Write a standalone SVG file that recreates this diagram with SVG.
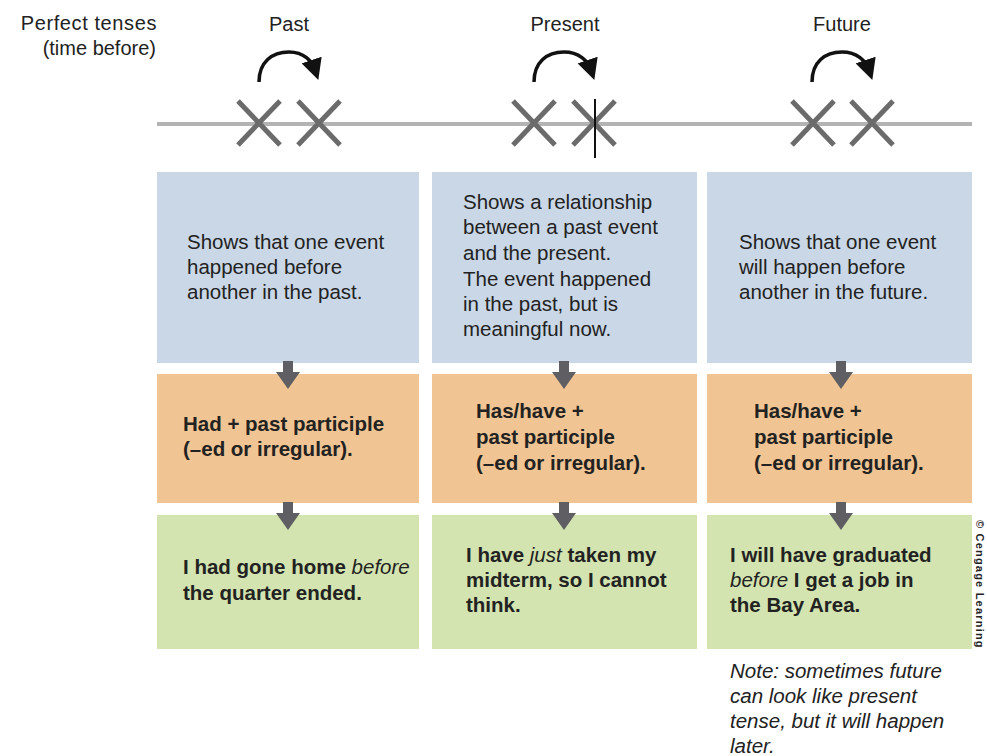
<svg xmlns="http://www.w3.org/2000/svg" width="987" height="756" viewBox="0 0 987 756">
<style>
text{font-family:"Liberation Sans",Arial,sans-serif;fill:#222}
.hd{font-size:20px}
.bt{font-size:20.5px}
.ob{font-size:20.5px;font-weight:bold}
.note{font-size:20.5px;font-style:italic}
.blue{fill:#cad7e6}
.orange{fill:#f1c593}
.green{fill:#d3e4b0}
.x{stroke:#6b6b6b;stroke-width:5;fill:none}
.arc{stroke:#111;stroke-width:3.5;fill:none}
.dn{fill:#5f5f63}
</style>
<defs>
<marker id="ah" markerWidth="6" markerHeight="6" refX="3" refY="3" orient="auto" markerUnits="strokeWidth">
<path d="M0,0 L6,3 L0,6 z" fill="#111"/>
</marker>
<g id="xx">
<path class="x" d="M-21,-22 L21,22 M-21,22 L21,-22"/>
</g>
<path id="darrow" d="M-5,0 L5,0 L5,11 L12,11 L0,28 L-12,11 L-5,11 z"/>
</defs>

<g id="title">
<text class="hd" x="157" y="30" text-anchor="end" letter-spacing="0.6">Perfect tenses</text>
<text class="hd" x="156" y="55" text-anchor="end">(time before)</text>
</g>

<g id="timeline">
<line x1="157" y1="124" x2="972" y2="124" stroke="#b3b3b3" stroke-width="4"/>
</g>

<g id="past-head">
<text class="hd" x="289" y="31" text-anchor="middle">Past</text>
<path class="arc" d="M259,82 C259,62 272,52 289,52 C304,52 312,61 315,70" marker-end="url(#ah)"/>
<use href="#xx" x="259" y="123"/>
<use href="#xx" x="319" y="123"/>
</g>
<g id="present-head">
<text class="hd" x="565" y="31" text-anchor="middle">Present</text>
<path class="arc" d="M534,82 C534,62 547,52 564,52 C579,52 588,61 591,70" marker-end="url(#ah)"/>
<use href="#xx" x="534" y="123"/>
<use href="#xx" x="594" y="123"/>
<line x1="595" y1="99" x2="595" y2="158" stroke="#111" stroke-width="2"/>
</g>
<g id="future-head">
<text class="hd" x="842" y="31" text-anchor="middle">Future</text>
<path class="arc" d="M812,82 C812,62 825,52 842,52 C857,52 866,61 869,70" marker-end="url(#ah)"/>
<use href="#xx" x="813" y="123"/>
<use href="#xx" x="872" y="123"/>
</g>

<g id="past-desc">
<rect class="blue" x="157" y="172" width="262" height="191"/>
<text class="bt"><tspan x="187" y="249">Shows that one event</tspan><tspan x="187" y="274">happened before</tspan><tspan x="187" y="299">another in the past.</tspan></text>
</g>
<g id="present-desc">
<rect class="blue" x="432" y="172" width="265" height="191"/>
<text class="bt"><tspan x="463" y="209">Shows a relationship</tspan><tspan x="463" y="234">between a past event</tspan><tspan x="463" y="260">and the present.</tspan><tspan x="463" y="286">The event happened</tspan><tspan x="463" y="311">in the past, but is</tspan><tspan x="463" y="336">meaningful now.</tspan></text>
</g>
<g id="future-desc">
<rect class="blue" x="707" y="172" width="265" height="191"/>
<text class="bt"><tspan x="739" y="249">Shows that one event</tspan><tspan x="739" y="274">will happen before</tspan><tspan x="739" y="299">another in the future.</tspan></text>
</g>

<g id="past-form">
<rect class="orange" x="157" y="374" width="262" height="129"/>
<text class="ob"><tspan x="183" y="431">Had + past participle</tspan><tspan x="183" y="456">(–ed or irregular).</tspan></text>
</g>
<g id="present-form">
<rect class="orange" x="432" y="374" width="265" height="129"/>
<text class="ob"><tspan x="476" y="418">Has/have +</tspan><tspan x="476" y="444">past participle</tspan><tspan x="476" y="470">(–ed or irregular).</tspan></text>
</g>
<g id="future-form">
<rect class="orange" x="707" y="374" width="265" height="129"/>
<text class="ob"><tspan x="754" y="418">Has/have +</tspan><tspan x="754" y="444">past participle</tspan><tspan x="754" y="470">(–ed or irregular).</tspan></text>
</g>

<g id="past-example">
<rect class="green" x="157" y="515" width="262" height="134"/>
<text class="ob"><tspan x="183" y="574">I had gone home <tspan font-style="italic" font-weight="normal">before</tspan></tspan><tspan x="183" y="600">the quarter ended.</tspan></text>
</g>
<g id="present-example">
<rect class="green" x="432" y="515" width="265" height="134"/>
<text class="ob"><tspan x="466" y="562">I have <tspan font-style="italic" font-weight="normal">just</tspan> taken my</tspan><tspan x="466" y="587">midterm, so I cannot</tspan><tspan x="466" y="612">think.</tspan></text>
</g>
<g id="future-example">
<rect class="green" x="707" y="515" width="265" height="134"/>
<text class="ob"><tspan x="730" y="562">I will have graduated</tspan><tspan x="730" y="587"><tspan font-style="italic" font-weight="normal">before</tspan> I get a job in</tspan><tspan x="730" y="612">the Bay Area.</tspan></text>
</g>

<g id="connectors">
<use href="#darrow" class="dn" x="288" y="361"/>
<use href="#darrow" class="dn" x="564" y="361"/>
<use href="#darrow" class="dn" x="841" y="361"/>
<use href="#darrow" class="dn" x="288" y="502"/>
<use href="#darrow" class="dn" x="564" y="502"/>
<use href="#darrow" class="dn" x="841" y="502"/>
</g>

<g id="note">
<text class="note"><tspan x="730" y="678">Note: sometimes future</tspan><tspan x="730" y="703">can look like present</tspan><tspan x="730" y="728">tense, but it will happen</tspan><tspan x="730" y="753">later.</tspan></text>
</g>

<g id="credit">
<text x="0" y="0" font-size="11" letter-spacing="1.2" font-weight="bold" transform="translate(976,520) rotate(90)">© Cengage Learning</text>
</g>
</svg>
